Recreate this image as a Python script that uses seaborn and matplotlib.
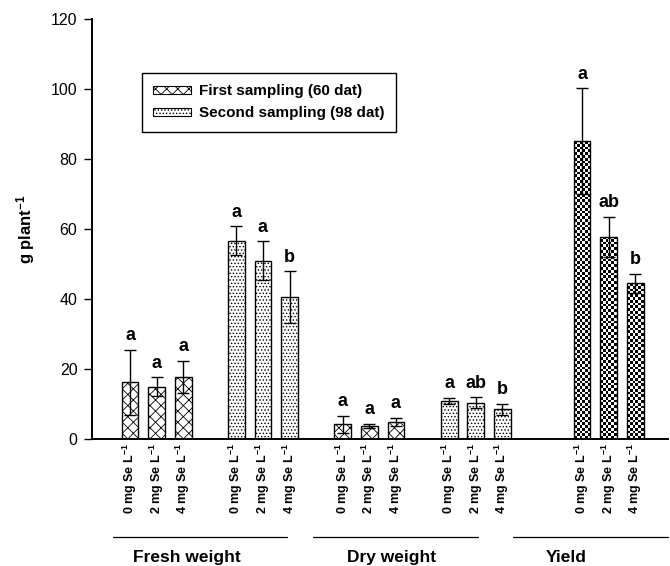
import numpy as np
import pandas as pd
import matplotlib
matplotlib.use("Agg")
import matplotlib.pyplot as plt
import matplotlib.transforms as mtransforms
from matplotlib.patches import Patch
import seaborn as sns

# values (g plant-1), mean and standard error
doses = ['0 mg Se L$^{-1}$', '2 mg Se L$^{-1}$', '4 mg Se L$^{-1}$']

fresh_first = [16.2, 14.9, 17.8]
fresh_first_se = [9.3, 2.7, 4.6]
fresh_first_let = ['a', 'a', 'a']

fresh_second = [56.7, 50.9, 40.5]
fresh_second_se = [4.1, 5.6, 7.4]
fresh_second_let = ['a', 'a', 'b']

dry_first = [4.2, 3.8, 4.9]
dry_first_se = [2.5, 0.6, 1.1]
dry_first_let = ['a', 'a', 'a']

dry_second = [10.9, 10.4, 8.5]
dry_second_se = [0.8, 1.5, 1.5]
dry_second_let = ['a', 'ab', 'b']

yield_vals = [85.1, 57.8, 44.5]
yield_se = [15.1, 5.7, 2.7]
yield_let = ['a', 'ab', 'b']

series_names = ['First sampling (60 dat)', 'Second sampling (98 dat)']
group_names = ['Fresh weight', 'Dry weight', 'Yield']

# build the table (subgroup, empty slots before it, values, se, letters, style)
subgroups = [
    (fresh_first, fresh_first_se, fresh_first_let, 'first'),
    (fresh_second, fresh_second_se, fresh_second_let, 'second'),
    (dry_first, dry_first_se, dry_first_let, 'first'),
    (dry_second, dry_second_se, dry_second_let, 'second'),
    (yield_vals, yield_se, yield_let, 'yield'),
]
gap_before = [0, 1, 1, 1, 2]

rows = []
pos = 0
for (vals, ses, lets, kind), gap in zip(subgroups, gap_before):
    pos += gap
    for d, v, s, l in zip(doses, vals, ses, lets):
        rows.append(dict(pos=pos, value=v, se=s, letter=l, kind=kind, dose=d))
        pos += 1
df = pd.DataFrame(rows)

sns.set_style('ticks')
plt.rcParams['font.family'] = ['Liberation Sans', 'DejaVu Sans']
plt.rcParams['mathtext.fontset'] = 'custom'
plt.rcParams['mathtext.rm'] = 'Liberation Sans:bold'
plt.rcParams['mathtext.bf'] = 'Liberation Sans:bold'
plt.rcParams['mathtext.it'] = 'Liberation Sans:bold'
plt.rcParams['hatch.linewidth'] = 0.6
for k in ['text.color', 'axes.labelcolor', 'xtick.color', 'ytick.color', 'axes.edgecolor']:
    plt.rcParams[k] = 'black'

fig = plt.figure(figsize=(6.7, 5.66), dpi=100)
ax = fig.add_axes([92 / 670, 127 / 566, 576 / 670, 420 / 566])

sns.barplot(data=df, x='pos', y='value', native_scale=True, width=0.63,
            color='white', saturation=1, edgecolor='black', linewidth=1,
            errorbar=None, ax=ax)

ax.set_xlim(-1.43, 20.23)
ax.set_ylim(0, 120)

hatches = {'first': 'xxx', 'second': '.....'}
bars = sorted(ax.patches, key=lambda p: p.get_x())
for p, kind in zip(bars, df['kind']):
    if kind in hatches:
        p.set_hatch(hatches[kind])

# checkerboard fill for the yield bars, clipped to each bar
for p, kind in zip(bars, df['kind']):
    if kind != 'yield':
        continue
    bb = p.get_bbox()
    (x0, y0), (x1, y1) = ax.transData.transform([[bb.x0, bb.y0], [bb.x1, bb.y1]])
    ncols = 6
    cell = (x1 - x0) / ncols
    nrows = max(1, int(round((y1 - y0) / cell)))
    img = (np.add.outer(np.arange(nrows), np.arange(ncols)) % 2).astype(float)
    im = ax.imshow(img, cmap='gray', vmin=0, vmax=1, origin='lower',
                   extent=(bb.x0, bb.x1, bb.y0, bb.y1), aspect='auto',
                   interpolation='nearest', zorder=0.9)
    im.set_clip_path(p)
    p.set_facecolor('none')
    p.set_zorder(1)

ax.set_xlim(-1.43, 20.23)
ax.set_ylim(0, 120)

ax.errorbar(df['pos'], df['value'], yerr=df['se'], fmt='none', ecolor='black',
            elinewidth=1, capsize=4.5, capthick=1, zorder=3)

for _, r in df.iterrows():
    ax.annotate(r['letter'], (r['pos'], r['value'] + r['se']), xytext=(0, 4),
                textcoords='offset points', ha='center', va='bottom',
                fontsize=13, fontweight='bold')

ax.set_xticks(df['pos'])
ax.set_xticklabels(df['dose'], rotation=90, fontsize=9, fontweight='bold')
ax.tick_params(axis='x', length=0, pad=3)
ax.tick_params(axis='y', length=5.5, width=1, labelsize=11.5, pad=5, direction='out')
ax.set_yticks(np.arange(0, 121, 20))
ax.set_xlabel('')
ax.set_ylabel('g plant$^{-1}$', fontsize=12, fontweight='bold', labelpad=10)

sns.despine(ax=ax)
ax.spines['left'].set_linewidth(1.4)
ax.spines['bottom'].set_linewidth(1.4)

# group brackets under the tick labels
trans = mtransforms.blended_transform_factory(ax.transData, ax.transAxes)
line_spans = [(-0.64, 5.9), (6.88, 13.08), (14.42, 20.23)]
label_x = [2.14, 9.85, 16.4]
for (a, b), lx, name in zip(line_spans, label_x, group_names):
    ax.plot([a, b], [-0.233, -0.233], color='black', lw=0.9,
            transform=trans, clip_on=False)
    ax.text(lx, -0.281, name, transform=trans, ha='center', va='center',
            fontsize=12.5, fontweight='bold')

handles = [Patch(facecolor='white', edgecolor='black', hatch=hatches['first'], lw=0.8),
           Patch(facecolor='white', edgecolor='black', hatch=hatches['second'], lw=0.8)]
leg = ax.legend(handles, series_names, loc='upper left',
                bbox_to_anchor=(141.5 / 670, 1 - 73 / 566), bbox_transform=fig.transFigure,
                borderaxespad=0, fancybox=False, frameon=True, framealpha=1,
                edgecolor='black', handlelength=2.5, handleheight=0.46,
                handletextpad=0.52, borderpad=0.75, labelspacing=0.5,
                prop={'weight': 'bold', 'size': 11})
leg.get_frame().set_linewidth(1)

fig.savefig('out.png', dpi=100)
